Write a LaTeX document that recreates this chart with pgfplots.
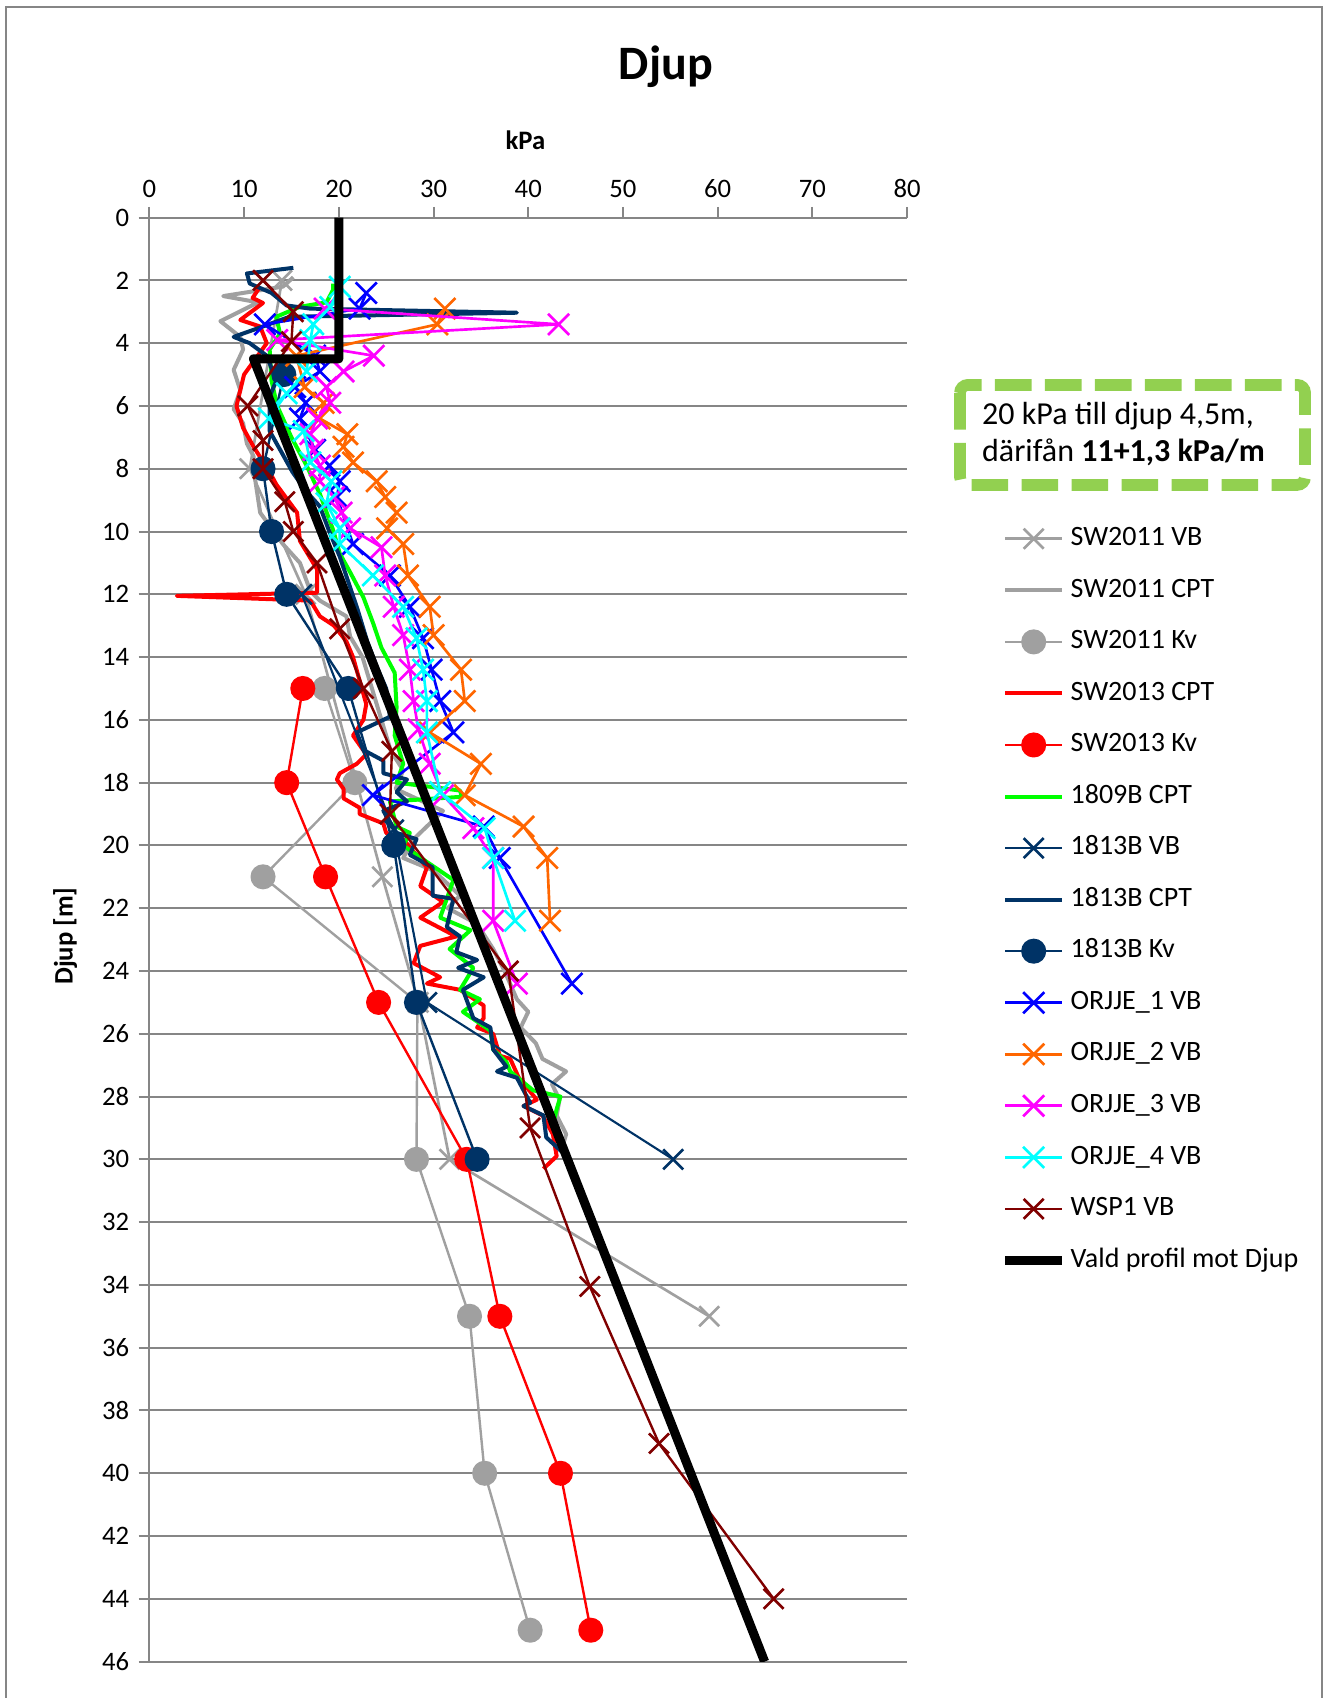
\documentclass[border=0pt]{standalone}
\usepackage{pgfplots}
\pgfplotsset{compat=1.18}
\usepackage{fontspec}
\setmainfont{Carlito}
\definecolor{cgray}{RGB}{160,160,160}
\definecolor{cnavy}{RGB}{0,51,102}
\definecolor{corange}{RGB}{255,102,0}
\definecolor{cdred}{RGB}{128,0,0}
\definecolor{cgrid}{RGB}{134,134,134}
\definecolor{cbox}{RGB}{146,208,80}
\definecolor{cmag}{RGB}{255,0,255}
\definecolor{ccyan}{RGB}{0,255,255}
\definecolor{cgreen}{RGB}{0,255,0}
\definecolor{cblue}{RGB}{0,0,255}
\definecolor{cred}{RGB}{255,0,0}
\begin{document}
\begin{tikzpicture}[x=1pt,y=1pt]
\path[use as bounding box] (0,0) rectangle (496.9,636.75);
\draw[cgrid, line width=0.75pt] (2.25,0) -- (2.25,634.1) -- (495.75,634.1) -- (495.75,0);
\node[anchor=base, font=\bfseries\fontsize{18}{22}\selectfont] at (249.75,607.1) {Djup};
\node[anchor=base, font=\bfseries\fontsize{10}{12}\selectfont] at (197,580.7) {kPa};
\node[rotate=90, font=\bfseries\fontsize{10}{12}\selectfont] at (24.4,285.75) {Djup [m]};
\begin{axis}[
  at={(56pt,555.15pt)}, anchor=north west,
  scale only axis, width=284.2pt, height=541.5pt,
  xmin=0, xmax=80, ymin=0, ymax=46, y dir=reverse,
  axis x line*=top, axis y line*=left,
  xtick={0,10,...,80}, ytick={0,2,...,46},
  ymajorgrids, grid style={cgrid, line width=0.75pt},
  axis line style={cgrid, line width=0.75pt},
  tick style={cgrid, line width=0.75pt},
  major tick length=4pt, tick align=outside,
  ticklabel style={font=\fontsize{10}{12}\selectfont},
  /pgf/number format/assume math mode=true,
  clip mode=individual,
  legend style={at={(axis cs:89.82,9.79)}, anchor=north west, draw=none, fill=none, inner sep=0pt, row sep=9.33pt,
    font=\fontsize{10.5}{12.6}\selectfont, nodes={text height=7.5pt, text depth=2.5pt, inner ysep=0pt, inner xsep=1.5pt}},
  legend cell align=left,
  legend image code/.code={\draw[mark repeat=2,mark phase=2,#1] plot coordinates {(0pt,0pt)(10.65pt,0pt)(21.3pt,0pt)};},
  every axis plot/.append style={line join=round},
]
% SW2011 VB
\addplot[color=cgray, line width=1pt, mark=x, mark size=5.3pt, mark options={solid,line width=1pt}] coordinates {
(14.0,2.0) (10.6,8.0) (16.5,12.0) (24.6,21.0) (28.4,25.0) (31.7,30.0) (59.1,35.0)};
\addlegendentry{SW2011 VB}
% SW2011 CPT
\addplot[color=cgray, line width=1.5pt] coordinates {
(15.2,1.9) (14.1,2.2) (7.8,2.5) (11.5,2.7) (9.5,3.0) (7.5,3.3) (9.6,3.8) (9.9,4.2) (8.9,4.85) (9.6,5.5) (8.9,6.1) (9.9,6.55) (10.3,7.2) (11.0,7.6) (11.0,8.0) (11.7,9.4) (14.1,10.4) (15.9,11.0) (17.0,11.9) (18.0,12.2) (20.8,12.7) (21.2,13.35) (22.5,14.0) (23.5,15.0) (24.5,16.0) (25.5,17.0) (26.8,17.6) (26.0,18.2) (31.0,18.9) (27.9,19.8) (26.8,20.4) (30.0,20.8) (32.8,21.6) (31.5,22.0) (34.6,22.5) (36.3,23.3) (37.5,24.0) (38.8,24.9) (40.0,25.3) (39.2,25.8) (40.8,26.3) (41.5,26.8) (44.0,27.2) (42.5,27.6) (43.3,28.1) (43.0,28.6) (44.0,29.2) (43.5,29.7)};
\addlegendentry{SW2011 CPT}
% SW2011 Kv
\addplot[color=cgray, line width=0.9pt, mark=*, mark size=4.25pt, mark options={solid}] coordinates {
(18.5,15) (21.7,18) (12.0,21) (28.3,25) (28.2,30) (33.8,35) (35.4,40) (40.2,45)};
\addlegendentry{SW2011 Kv}
% SW2013 CPT
\addplot[color=cred, line width=1.5pt] coordinates {
(11.7,2.2) (10.9,2.56) (12.0,2.72) (9.6,3.26) (11.7,3.47) (12.4,4.0) (11.2,4.5) (10.0,5.0) (9.6,5.5) (9.2,6.0) (9.9,6.7) (11.0,7.3) (12.7,8.1) (13.4,8.5) (15.6,9.4) (15.9,10.3) (17.7,11.2) (17.7,11.95) (2.9,12.05) (17.0,12.2) (18.0,12.7) (19.5,13.0) (20.8,13.5) (21.5,14.0) (22.9,15.5) (22.6,16.0) (21.5,16.5) (22.9,17.1) (21.9,17.4) (20.1,17.7) (19.8,17.9) (20.5,18.2) (20.5,18.5) (22.2,18.8) (22.2,19.0) (24.7,19.3) (25.0,19.6) (26.8,19.8) (27.9,20.2) (29.3,20.7) (28.6,21.3) (31.0,21.8) (28.6,22.3) (32.4,22.9) (28.6,23.2) (27.9,23.75) (30.7,24.2) (29.3,24.4) (32.8,24.6) (35.3,25.1) (35.3,25.5) (34.6,25.8) (36.3,26.0) (37.0,26.7) (38.1,26.8) (39.0,27.4) (40.9,28.1) (39.5,28.3) (41.5,28.6) (42.6,29.2) (43.0,29.9) (41.6,30.3)};
\addlegendentry{SW2013 CPT}
% SW2013 Kv
\addplot[color=cred, line width=0.9pt, mark=*, mark size=4.25pt, mark options={solid}] coordinates {
(16.2,15) (14.5,18) (18.6,21) (24.2,25) (33.5,30) (37.0,35) (43.4,40) (46.6,45)};
\addlegendentry{SW2013 Kv}
% 1809B CPT
\addplot[color=cgreen, line width=1.5pt] coordinates {
(19.4,2.1) (19.4,2.3) (18.7,2.7) (15.9,2.84) (13.4,3.16) (13.8,3.7) (12.7,4.2) (12.9,5.2) (13.5,6.0) (15.0,7.0) (16.6,7.9) (18.0,8.8) (19.4,9.95) (20.1,10.7) (21.2,11.3) (22.6,12.1) (23.6,12.9) (24.5,13.7) (25.9,14.5) (26.1,15.6) (25.9,16.5) (26.8,17.4) (26.1,18.0) (32.8,18.25) (33.0,18.45) (25.4,18.6) (26.1,19.4) (27.5,19.6) (26.8,20.0) (28.2,20.3) (32.1,21.1) (30.7,22.3) (33.9,22.7) (31.7,23.3) (34.2,23.9) (32.8,24.6) (34.9,24.9) (33.1,25.3) (36.0,25.9) (36.3,26.5) (37.7,26.9) (38.1,27.2) (40.5,27.8) (43.4,28.0) (43.0,28.4) (42.6,28.9)};
\addlegendentry{1809B CPT}
% 1813B VB
\addplot[color=cnavy, line width=0.8pt, mark=x, mark size=5.3pt, mark options={solid,line width=1pt}] coordinates {
(16.1,12.0) (25.8,19.5) (29.3,25.0) (55.3,30.0)};
\addlegendentry{1813B VB}
% 1813B CPT
\addplot[color=cnavy, line width=1.5pt] coordinates {
(15.2,1.6) (10.3,1.78) (10.6,2.1) (12.9,2.4) (14.5,2.8) (17.0,2.9) (38.8,3.03) (14.8,3.16) (11.7,3.5) (8.9,3.8) (10.6,4.0) (12.4,4.4) (13.4,5.2) (12.7,5.7) (12.7,6.8) (14.0,7.5) (15.1,8.1) (16.5,8.7) (18.0,9.2) (19.0,10.0) (20.1,10.8) (21.0,11.6) (22.0,12.5) (23.0,13.5) (24.0,14.3) (25.0,15.0) (25.4,15.9) (21.9,16.4) (22.6,16.96) (24.7,17.3) (24.7,17.7) (27.2,17.9) (26.1,18.3) (27.2,18.6) (24.7,18.9) (26.1,19.6) (28.2,19.8) (27.5,20.3) (29.9,20.7) (29.9,21.6) (32.1,21.7) (31.4,22.6) (32.8,22.9) (32.4,23.4) (34.6,23.65) (32.6,23.9) (35.3,24.2) (33.1,24.6) (34.2,25.5) (36.0,25.8) (36.3,26.5) (37.7,27.05) (36.7,27.2) (38.8,27.4) (40.2,28.2) (39.5,28.3) (41.6,28.6) (41.9,29.3) (43.7,29.8)};
\addlegendentry{1813B CPT}
% 1813B Kv
\addplot[color=cnavy, line width=0.9pt, mark=*, mark size=4.25pt, mark options={solid}] coordinates {
(14.2,5.0) (12.0,8.0) (12.9,10.0) (14.5,12.0) (21.0,15.0) (25.8,20.0) (28.2,25.0) (34.6,30.0)};
\addlegendentry{1813B Kv}
% ORJJE_1 VB
\addplot[color=cblue, line width=1pt, mark=x, mark size=5.6pt, mark options={solid,line width=1pt}] coordinates {
(22.9,2.4) (22.2,2.9) (12.2,3.4) (17.5,4.4) (18.0,4.9) (15.4,5.4) (16.5,5.9) (15.9,6.4) (17.5,7.4) (19.0,7.9) (20.1,8.4) (19.8,8.9) (21.5,10.4) (25.4,11.4) (27.5,12.4) (28.9,13.4) (29.8,14.4) (30.7,15.4) (32.1,16.4) (23.6,18.4) (35.3,19.4) (37.0,20.4) (44.6,24.4)};
\addlegendentry{ORJJE\_1 VB}
% ORJJE_2 VB
\addplot[color=corange, line width=1pt, mark=x, mark size=5.6pt, mark options={solid,line width=1pt}] coordinates {
(31.2,2.9) (30.4,3.4) (15.5,4.4) (16.4,5.4) (18.4,5.9) (18.0,6.4) (20.9,6.9) (20.5,7.3) (21.5,7.8) (24.0,8.4) (24.9,8.9) (26.1,9.4) (25.1,9.9) (26.8,10.4) (27.3,11.4) (29.6,12.4) (30.0,13.3) (32.9,14.4) (33.3,15.4) (29.6,16.4) (35.0,17.4) (33.3,18.4) (39.5,19.4) (42.0,20.4) (42.3,22.4)};
\addlegendentry{ORJJE\_2 VB}
% ORJJE_3 VB
\addplot[color=cmag, line width=1pt, mark=x, mark size=5.6pt, mark options={solid,line width=1pt}] coordinates {
(18.5,2.9) (43.2,3.4) (13.5,3.9) (23.7,4.4) (20.5,4.9) (18.7,5.4) (19.1,5.9) (17.7,6.4) (17.0,6.9) (17.3,7.4) (18.0,7.9) (18.0,8.4) (19.5,8.9) (20.3,9.4) (21.2,9.9) (24.5,10.5) (24.9,11.4) (25.8,12.4) (26.8,13.3) (27.5,14.4) (27.9,15.4) (28.4,16.3) (29.6,17.4) (31.0,18.4) (34.2,19.45) (36.3,20.4) (36.3,22.4) (38.8,24.4)};
\addlegendentry{ORJJE\_3 VB}
% ORJJE_4 VB
\addplot[color=ccyan, line width=1pt, mark=x, mark size=5.6pt, mark options={solid,line width=1pt}] coordinates {
(20.1,2.2) (19.1,2.85) (17.3,3.4) (17.0,3.9) (16.6,4.9) (14.5,5.6) (12.6,6.4) (16.3,6.8) (17.0,7.8) (19.2,8.4) (18.7,9.1) (20.1,9.9) (20.1,10.4) (23.6,11.4) (26.8,12.4) (28.2,13.4) (28.9,14.4) (29.3,15.4) (29.3,16.4) (30.7,18.3) (35.4,19.45) (36.3,20.4) (38.6,22.4)};
\addlegendentry{ORJJE\_4 VB}
% WSP1 VB
\addplot[color=cdred, line width=0.9pt, mark=x, mark size=5.3pt, mark options={solid,line width=1pt}] coordinates {
(12.0,2.0) (15.2,3.0) (15.0,3.95) (10.4,6.0) (12.0,7.1) (12.0,8.0) (14.3,9.05) (15.2,10.0) (17.7,11.0) (20.1,13.1) (22.6,15.0) (25.6,17.0) (25.4,19.0) (37.9,24.0) (40.2,29.0) (46.5,34.05) (53.8,39.05) (65.9,44.0)};
\addlegendentry{WSP1 VB}
% Vald profil
\addplot[color=black, line width=3.4pt] coordinates {
(20,0) (20,4.5) (11,4.5) (64.95,46)};
\addlegendentry{Vald profil mot Djup}
\end{axis}
\draw[cbox, line width=4.4pt, rounded corners=3pt, dash pattern=on 13.75pt off 5pt] (360,492.4) rectangle (489.4,454.9);
\node[anchor=base west, inner sep=0pt, font=\fontsize{12}{14}\selectfont] at (368.1,477.4) {20 kPa till djup 4,5m,};
\node[anchor=base west, inner sep=0pt, font=\fontsize{12}{14}\selectfont] at (368.1,463.6) {därifån \textbf{11+1,3 kPa/m}};
\end{tikzpicture}
\end{document}
